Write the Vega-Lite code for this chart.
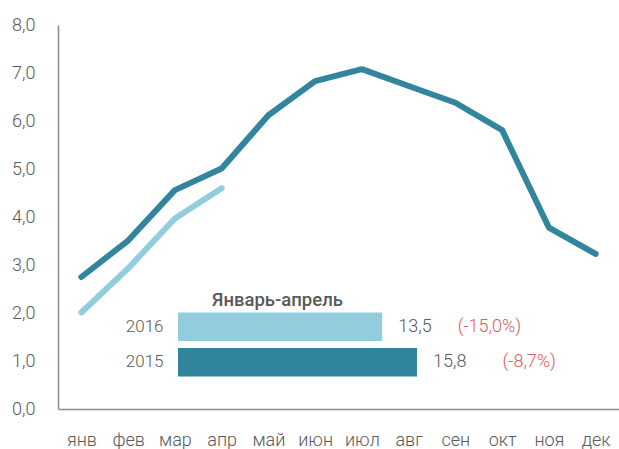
{
  "$schema": "https://vega.github.io/schema/vega-lite/v6.json",
  "autosize": "none",
  "width": 561,
  "height": 384,
  "padding": {"left": 58, "top": 25, "right": 0, "bottom": 40},
  "background": "white",
  "config": {
    "font": "Roboto, sans-serif",
    "view": {"stroke": null}
  },
  "resolve": {"scale": {"x": "independent", "y": "independent"}, "axis": {"x": "independent", "y": "independent"}},
  "layer": [
    {
      "data": {"values": [
        {"month": "янв", "year": "2015", "value": 2.75},
        {"month": "фев", "year": "2015", "value": 3.51},
        {"month": "мар", "year": "2015", "value": 4.56},
        {"month": "апр", "year": "2015", "value": 5.01},
        {"month": "май", "year": "2015", "value": 6.12},
        {"month": "июн", "year": "2015", "value": 6.83},
        {"month": "июл", "year": "2015", "value": 7.08},
        {"month": "авг", "year": "2015", "value": 6.73},
        {"month": "сен", "year": "2015", "value": 6.38},
        {"month": "окт", "year": "2015", "value": 5.81},
        {"month": "ноя", "year": "2015", "value": 3.78},
        {"month": "дек", "year": "2015", "value": 3.23},
        {"month": "янв", "year": "2016", "value": 2.01},
        {"month": "фев", "year": "2016", "value": 2.93},
        {"month": "мар", "year": "2016", "value": 3.97},
        {"month": "апр", "year": "2016", "value": 4.6}
      ]},
      "mark": {"type": "line", "strokeWidth": 6, "strokeCap": "round", "strokeJoin": "round"},
      "encoding": {
        "x": {
          "field": "month", "type": "ordinal",
          "sort": ["янв","фев","мар","апр","май","июн","июл","авг","сен","окт","ноя","дек"],
          "scale": {"type": "point", "padding": 0.5},
          "axis": {"title": null, "labelAngle": 0, "ticks": false, "domainColor": "#8c8c8c", "domainWidth": 1.5, "labelFontSize": 18, "labelFontWeight": 300, "labelColor": "#595959", "labelPadding": 22}
        },
        "y": {
          "field": "value", "type": "quantitative",
          "scale": {"domain": [0, 8], "nice": false},
          "axis": {"title": null, "values": [0,1,2,3,4,5,6,7,8], "grid": false, "ticks": false, "domainColor": "#8c8c8c", "domainWidth": 1.5, "labelFontSize": 18, "labelFontWeight": 300, "labelColor": "#595959", "labelPadding": 23, "labelExpr": "replace(format(datum.value, '.1f'), '.', ',')"}
        },
        "color": {"field": "year", "type": "nominal", "scale": {"domain": ["2015", "2016"], "range": ["#31859C", "#93CDDD"]}, "legend": null}
      }
    },
    {
      "data": {"values": [
        {"year": "2016", "total": 13.5, "label": "13,5", "change": "(-15,0%)"},
        {"year": "2015", "total": 15.8, "label": "15,8", "change": "(-8,7%)"}
      ]},
      "encoding": {
        "x": {"field": "total", "type": "quantitative", "scale": {"domain": [0, 15.8], "range": [120, 359], "nice": false, "zero": true}, "axis": null},
        "y": {
          "field": "year", "type": "nominal",
          "scale": {"type": "band", "domain": ["2016", "2015"], "range": [284, 355], "paddingInner": 0.2, "paddingOuter": 0.1},
          "axis": {"orient": "left", "offset": -120, "domain": false, "ticks": false, "grid": false, "labelFontSize": 17, "labelFontWeight": 300, "labelColor": "#595959", "labelPadding": 15,
                   "title": "Январь-апрель", "titleAngle": 0, "titleAlign": "center", "titleBaseline": "alphabetic", "titleX": 99, "titleY": 280, "titleFontSize": 18.5, "titleFontWeight": 500, "titleColor": "#595959"}
        }
      },
      "layer": [
        {"mark": {"type": "bar"}, "encoding": {"color": {"field": "year", "type": "nominal", "legend": null}}},
        {"mark": {"type": "text", "align": "left", "dx": 16, "fontSize": 18, "fontWeight": 300, "color": "#595959"}, "encoding": {"text": {"field": "label"}}},
        {"mark": {"type": "text", "align": "right", "dx": 139, "fontSize": 18, "fontWeight": 300, "color": "#E05C5C"}, "encoding": {"text": {"field": "change"}}}
      ]
    }
  ]
}
